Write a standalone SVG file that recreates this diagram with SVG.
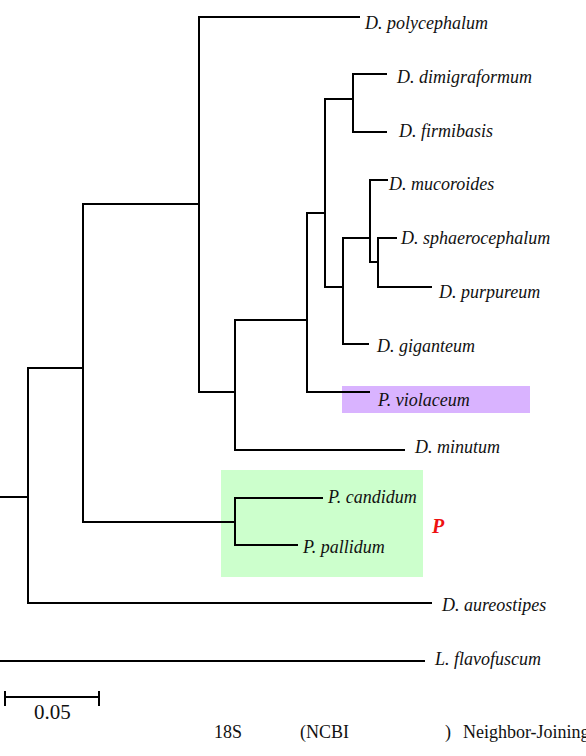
<svg xmlns="http://www.w3.org/2000/svg" width="586" height="756" viewBox="0 0 586 756">
  <style>
    .br { fill: none; stroke: #000; stroke-width: 2; stroke-linecap: square; stroke-linejoin: miter; }
    .lab { font-family: "Liberation Serif", "Times New Roman", serif; font-style: italic; font-size: 18px; fill: #111; }
    .cap { font-family: "Liberation Serif", "Times New Roman", serif; font-size: 18px; fill: #111; }
  </style>
  <rect width="586" height="756" fill="#fff"/>

  <!-- clade highlights -->
  <rect id="hl-polysphondylium" x="221" y="470" width="202" height="107" fill="#ccffcc"/>
  <rect id="hl-violaceum" x="342" y="386" width="188" height="27" fill="#d9b3ff"/>

  <!-- tree branches -->
  <g id="connectors" class="br">
    <!-- root -->
    <path d="M0 497 H28"/>
    <path d="M0 661 H424"/>
    <!-- node C -->
    <path d="M28 368 V603"/>
    <path d="M28 368 H83"/>
    <path d="M28 603 H431"/>
    <!-- node B -->
    <path d="M83 204 V522"/>
    <path d="M83 204 H199"/>
    <path d="M83 522 H235"/>
    <!-- node A -->
    <path d="M199 17 V392"/>
    <path d="M199 17 H359"/>
    <path d="M199 392 H235"/>
    <!-- node D -->
    <path d="M235 320 V450"/>
    <path d="M235 320 H307"/>
    <path d="M235 450 H404"/>
    <!-- node E -->
    <path d="M307 213 V392"/>
    <path d="M307 213 H325"/>
    <path d="M307 392 H369"/>
    <!-- node F -->
    <path d="M325 99 V287"/>
    <path d="M325 99 H353"/>
    <path d="M325 287 H343"/>
    <!-- node G -->
    <path d="M353 74 V132"/>
    <path d="M353 74 H386"/>
    <path d="M353 132 H386"/>
    <!-- node H -->
    <path d="M343 238 V344"/>
    <path d="M343 238 H370"/>
    <path d="M343 344 H368"/>
    <!-- node I -->
    <path d="M370 180 V262"/>
    <path d="M370 180 H387"/>
    <path d="M370 262 H378"/>
    <!-- node J -->
    <path d="M378 238 V287"/>
    <path d="M378 238 H396"/>
    <path d="M378 287 H431"/>
    <!-- Polysphondylium clade -->
    <path d="M235 498 V545"/>
    <path d="M235 498 H322"/>
    <path d="M235 545 H297"/>
  </g>

  <!-- leaves -->
  <g id="n-polycephalum"><text class="lab" x="365" y="29">D. polycephalum</text></g>
  <g id="n-dimigraformum"><text class="lab" x="397" y="83">D. dimigraformum</text></g>
  <g id="n-firmibasis"><text class="lab" x="399" y="137">D. firmibasis</text></g>
  <g id="n-mucoroides"><text class="lab" x="389" y="190">D. mucoroides</text></g>
  <g id="n-sphaerocephalum"><text class="lab" x="401" y="244">D. sphaerocephalum</text></g>
  <g id="n-purpureum"><text class="lab" x="439" y="298">D. purpureum</text></g>
  <g id="n-giganteum"><text class="lab" x="377" y="352">D. giganteum</text></g>
  <g id="n-violaceum"><text class="lab" x="378" y="406">P. violaceum</text></g>
  <g id="n-minutum"><text class="lab" x="415" y="453">D. minutum</text></g>
  <g id="n-candidum"><text class="lab" x="328" y="503">P. candidum</text></g>
  <g id="n-pallidum"><text class="lab" x="303" y="553">P. pallidum</text></g>
  <g id="n-aureostipes"><text class="lab" x="442" y="611">D. aureostipes</text></g>
  <g id="n-flavofuscum"><text class="lab" x="435" y="665">L. flavofuscum</text></g>
  <g id="n-clade-P"><text x="432" y="533" style="font-family: 'Liberation Serif', serif; font-style: italic; font-weight: bold; font-size: 20px; fill: #ee1111;">P</text></g>

  <!-- scale bar -->
  <g id="scale">
    <path class="br" d="M5 697 H99 M5 692 V705 M99 692 V705"/>
    <text class="cap" x="34" y="719" style="font-size: 21px;">0.05</text>
  </g>

  <!-- caption -->
  <g id="caption">
    <text class="cap" x="214" y="738">18S</text>
    <text class="cap" x="300" y="738">(NCBI</text>
    <text class="cap" x="445" y="738">)</text>
    <text class="cap" x="463" y="738">Neighbor-Joining</text>
  </g>
</svg>
